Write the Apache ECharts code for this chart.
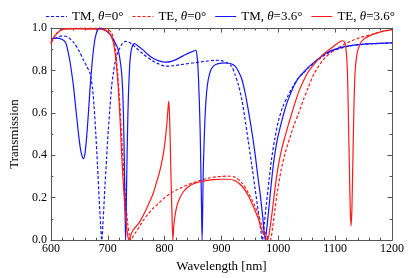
<!DOCTYPE html>
<html>
<head>
<meta charset="utf-8">
<script src="https://cdn.jsdelivr.net/npm/echarts@6/dist/echarts.min.js"></script>
<style>
html,body{margin:0;padding:0;background:#fff;}
#c{width:415px;height:278px;}
</style>
</head>
<body>
<div id="c"></div>
<script>
// TM, theta = 0 deg (blue dashed)
const wlTM0 = [600,610,620,630,640,650,657,663,669,673,676,679,682,685,687.5,689.5,692,695,698,701,704,707,710,713,717,721,726,731,736,742,750,762,779,790,802,815,826,849,872,889,900,910,918,924,930,936,941,947,953,959,964,968,972,975.5,979,984,988,994,1000,1008,1017,1025,1034,1043,1052,1063,1075,1090,1107,1125,1145,1165,1185,1200];
const trTM0 = [0.935,0.955,0.963,0.957,0.932,0.89,0.85,0.82,0.785,0.72,0.63,0.5,0.35,0.19,0.07,0.0,0.1,0.25,0.39,0.52,0.63,0.73,0.79,0.84,0.88,0.905,0.928,0.937,0.935,0.925,0.906,0.878,0.845,0.83,0.82,0.822,0.826,0.835,0.843,0.848,0.846,0.835,0.82,0.78,0.73,0.66,0.58,0.47,0.36,0.245,0.15,0.07,0.0,0.08,0.17,0.29,0.38,0.48,0.56,0.63,0.68,0.72,0.76,0.785,0.81,0.836,0.86,0.885,0.903,0.915,0.922,0.926,0.928,0.93];

// TE, theta = 0 deg (red dashed)
const wlTE0 = [600,605,610,615,620,630,650,680,695,702,707,711,714,717,720,723,726,729,732,735,738,741,744,750,756,762,770,780,790,800,810,820,830,840,850,860,870,880,890,900,912,924,936,947,959,965,970.5,976,982,986,990,993,998,1005,1012,1020,1028,1036,1044,1052,1063,1080,1098,1121,1144,1165,1185,1200];
const trTE0 = [0.93,0.955,0.975,0.988,0.995,0.998,0.999,0.999,0.998,0.99,0.975,0.94,0.89,0.8,0.69,0.56,0.42,0.29,0.17,0.08,0.025,0.0,0.015,0.04,0.065,0.09,0.12,0.15,0.175,0.2,0.22,0.235,0.248,0.26,0.27,0.28,0.288,0.294,0.298,0.3,0.302,0.296,0.27,0.224,0.16,0.12,0.075,0.04,0.012,0.0,0.06,0.12,0.22,0.33,0.41,0.48,0.545,0.6,0.66,0.715,0.785,0.853,0.895,0.93,0.955,0.97,0.985,0.992];

// TM, theta = 3.6 deg (blue solid)
const wlTM36 = [600,610,620,626,630,634,637,640,643,646,649,652,655,657.5,660,663,666,669,672,675,678,682,686,690,698,704,710,715,718,721,724,726,727.5,729,730,731,731.5,732.5,734,735.5,737,739,741,744,747,752,762,770,779,790,802,812,820,830,837,845,852,855,857,859,861,862.5,864,865,866,867,868,870,871.5,874,877,881,885,890,900,910,918,924,930,936,942,947,953,959,964,968,973,977,980,983,987,992,998,1005,1011,1017,1028,1037,1046,1055,1066,1083,1107,1136,1165,1200];
const trTM36 = [0.95,0.952,0.946,0.93,0.89,0.835,0.78,0.72,0.64,0.565,0.49,0.43,0.395,0.384,0.41,0.49,0.6,0.72,0.82,0.9,0.955,0.99,1.0,0.997,0.985,0.97,0.945,0.92,0.9,0.86,0.8,0.72,0.6,0.4,0.22,0.05,0.0,0.15,0.4,0.6,0.73,0.84,0.89,0.92,0.926,0.918,0.897,0.876,0.859,0.845,0.839,0.843,0.851,0.865,0.875,0.885,0.893,0.895,0.87,0.8,0.66,0.52,0.3,0.15,0.0,0.15,0.33,0.5,0.6,0.7,0.76,0.8,0.818,0.828,0.834,0.835,0.83,0.82,0.795,0.757,0.69,0.616,0.52,0.41,0.3,0.22,0.1,0.0,0.06,0.14,0.25,0.37,0.47,0.55,0.61,0.66,0.73,0.77,0.795,0.82,0.845,0.88,0.906,0.92,0.926,0.93];

// TE, theta = 3.6 deg (red solid)
const wlTE36 = [600,605,610,615,623,640,660,686,695,700,704,707,710,713,715,718,720,722,724,726,728,730,732.5,735,737,740,744,750,756,765,773,780,785,790,794,798,801,804,806,807.3,808.5,810,811.5,813,814.5,816,818,822,827,833,840,849,860,872,885,900,912,924,936,947,959,965,970,975,981,985,990,995,1000,1006,1012,1020,1028,1036,1045,1052,1063,1080,1098,1108,1113,1117,1119.5,1121.5,1123,1125,1126.5,1128,1129.5,1131,1133,1135,1138,1141,1146,1153,1165,1180,1200];
const trTE36 = [0.925,0.955,0.972,0.985,0.994,0.996,0.995,0.994,0.99,0.982,0.972,0.955,0.93,0.88,0.83,0.74,0.65,0.55,0.43,0.33,0.24,0.16,0.08,0.025,0.0,0.02,0.045,0.065,0.085,0.13,0.177,0.22,0.265,0.31,0.355,0.41,0.47,0.55,0.62,0.655,0.6,0.45,0.27,0.12,0.0,0.06,0.11,0.165,0.2,0.228,0.248,0.263,0.273,0.28,0.285,0.287,0.287,0.28,0.255,0.21,0.14,0.1,0.055,0.025,0.0,0.05,0.15,0.26,0.35,0.43,0.49,0.565,0.635,0.7,0.755,0.79,0.83,0.878,0.915,0.935,0.94,0.93,0.89,0.8,0.62,0.35,0.15,0.067,0.15,0.35,0.62,0.79,0.87,0.905,0.935,0.953,0.969,0.982,0.992];

const xTicks = [600,700,800,900,1000,1100,1200];
const yTicks = [0.0,0.2,0.4,0.6,0.8,1.0];
const seriesNames = ['TM, θ=0°','TE, θ=0°','TM, θ=3.6°','TE, θ=3.6°'];

const SERIF = "'Liberation Serif','DejaVu Serif',serif";
const BLUE = '#1414ff';
const RED = '#ff1a1a';
const FRAME = '#555';
const ICON_DASH = 'path://M0,0h3.2v1h-3.2zM5,0h3.2v1h-3.2zM10,0h3.2v1h-3.2zM15,0h3.2v1h-3.2zM20,0h1v1h-1z';
const ICON_SOLID = 'path://M0,0h21v1h-21z';

function zip(xs, ys){ return xs.map((x,i)=>[x, ys[i]]); }

function xAx(pos, labels){
  return {
    type:'value', position:pos, min:xTicks[0], max:xTicks[xTicks.length-1], interval:100,
    axisLine:{show:true, onZero:false, lineStyle:{color:FRAME, width:1}},
    axisTick:{show:true, inside:true, length:4.5, lineStyle:{color:FRAME}},
    minorTick:{show:true, splitNumber:5, length:2.5, lineStyle:{color:FRAME}},
    splitLine:{show:false}, minorSplitLine:{show:false},
    axisLabel:{show:labels, color:'#000', fontFamily:SERIF, fontSize:12, margin:3,
      formatter:v=>String(v)},
    name: labels ? 'Wavelength [nm]' : '', nameLocation:'middle', nameGap:19,
    nameTextStyle:{color:'#000', fontFamily:SERIF, fontSize:13}
  };
}
function yAx(pos, labels){
  return {
    type:'value', position:pos, min:yTicks[0], max:yTicks[yTicks.length-1], interval:0.2,
    axisLine:{show:true, onZero:false, lineStyle:{color:FRAME, width:1}},
    axisTick:{show:true, inside:true, length:4.5, lineStyle:{color:FRAME}},
    minorTick:{show:true, splitNumber:2, length:2.5, lineStyle:{color:FRAME}},
    splitLine:{show:false}, minorSplitLine:{show:false},
    axisLabel:{show:labels, color:'#000', fontFamily:SERIF, fontSize:12, margin:4,
      formatter:v=>v.toFixed(1)},
    name: labels ? 'Transmission' : '', nameLocation:'middle', nameGap:24,
    nameTextStyle:{color:'#000', fontFamily:SERIF, fontSize:13}
  };
}

function mk(name, xs, ys, color, dashed){
  return {
    name, type:'line', xAxisIndex:0, yAxisIndex:0,
    data: zip(xs, ys), showSymbol:false, symbol:'none', smooth:0.25,
    lineStyle:{color, width:1.2, type: dashed ? [3,2] : 'solid'},
    itemStyle:{color}, animation:false
  };
}

const chart = echarts.init(document.getElementById('c'), null, {renderer:'canvas'});
chart.setOption({
  animation:false,
  grid:{left:47, right:23, top:28, bottom:37, containLabel:false},
  legend:{
    top:5, left:41, itemWidth:21, itemHeight:1.3, itemGap:9,
    textStyle:{color:'#000', fontFamily:SERIF, fontSize:13,
      rich:{i:{fontStyle:'italic', fontFamily:SERIF, fontSize:13, color:'#000'}}},
    formatter: n => n.replace('θ','{i|θ}'),
    data:[
      {name:seriesNames[0], icon:ICON_DASH},
      {name:seriesNames[1], icon:ICON_DASH},
      {name:seriesNames[2], icon:ICON_SOLID},
      {name:seriesNames[3], icon:ICON_SOLID}
    ]
  },
  xAxis:[xAx('bottom', true), xAx('top', false)],
  yAxis:[yAx('left', true), yAx('right', false)],
  series:[
    mk(seriesNames[0], wlTM0, trTM0, BLUE, true),
    mk(seriesNames[1], wlTE0, trTE0, RED, true),
    mk(seriesNames[2], wlTM36, trTM36, BLUE, false),
    mk(seriesNames[3], wlTE36, trTE36, RED, false)
  ]
});
</script>
</body>
</html>
